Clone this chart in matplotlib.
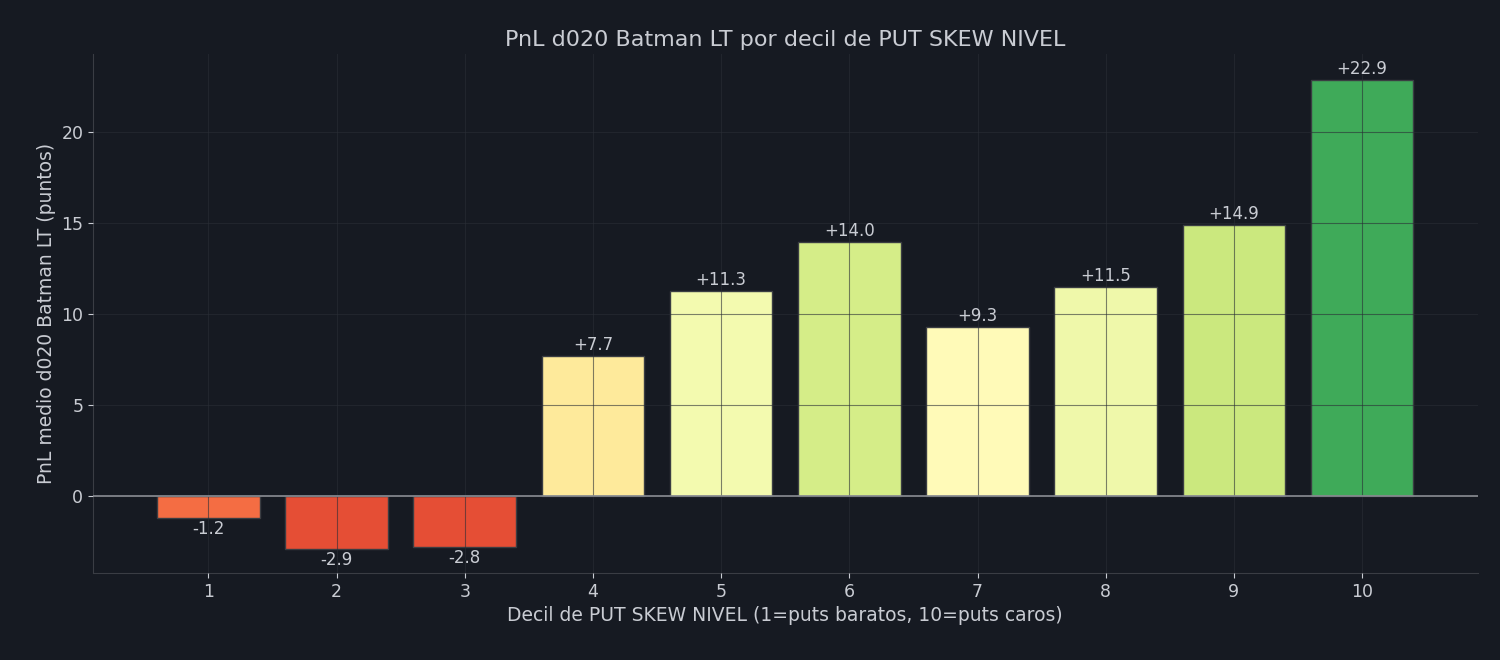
import matplotlib
matplotlib.use("Agg")
import matplotlib.pyplot as plt

deciles = [1, 2, 3, 4, 5, 6, 7, 8, 9, 10]
pnl = [-1.2, -2.9, -2.8, 7.7, 11.3, 14.0, 9.3, 11.5, 14.9, 22.9]
bar_colors = ["#f46d43", "#e54e35", "#e54e35", "#feea9b", "#f3faaf",
              "#d5ed88", "#fffab8", "#eff8aa", "#cbe87e", "#3faa59"]

BG = "#161a22"
TXT = "#c9ccd3"

fig, ax = plt.subplots(figsize=(15, 6.6), dpi=100)
fig.patch.set_facecolor(BG)
ax.set_facecolor(BG)

ax.bar(deciles, pnl, width=0.8, color=bar_colors, edgecolor="#3a3d42",
       linewidth=1.0, zorder=2)
ax.axhline(0, color="#8a8d93", lw=1.2, zorder=3)
ax.grid(True, color="#2a2e36", lw=0.8, alpha=0.6, zorder=4)
ax.set_axisbelow(False)

for x, v in zip(deciles, pnl):
    if v >= 0:
        ax.text(x, v + 0.1, f"+{v:.1f}", ha="center", va="bottom",
                fontsize=12, color=TXT, zorder=5)
    else:
        ax.text(x, v - 0.1, f"{v:.1f}", ha="center", va="top",
                fontsize=12, color=TXT, zorder=5)

ax.set_xticks(deciles)
ax.set_xlim(0.1, 10.9)
ax.set_ylim(-4.2, 24.3)
ax.tick_params(colors=TXT, labelsize=12.5)
for s in ["top", "right"]:
    ax.spines[s].set_visible(False)
for s in ["left", "bottom"]:
    ax.spines[s].set_color("#3a3d44")

ax.set_title("PnL d020 Batman LT por decil de PUT SKEW NIVEL",
             color=TXT, fontsize=16)
ax.set_xlabel("Decil de PUT SKEW NIVEL (1=puts baratos, 10=puts caros)",
              color=TXT, fontsize=13.5)
ax.set_ylabel("PnL medio d020 Batman LT (puntos)", color=TXT, fontsize=13.5)

fig.subplots_adjust(left=0.062, right=0.985, top=0.918, bottom=0.132)
fig.savefig("out.png", dpi=100, facecolor=BG)
